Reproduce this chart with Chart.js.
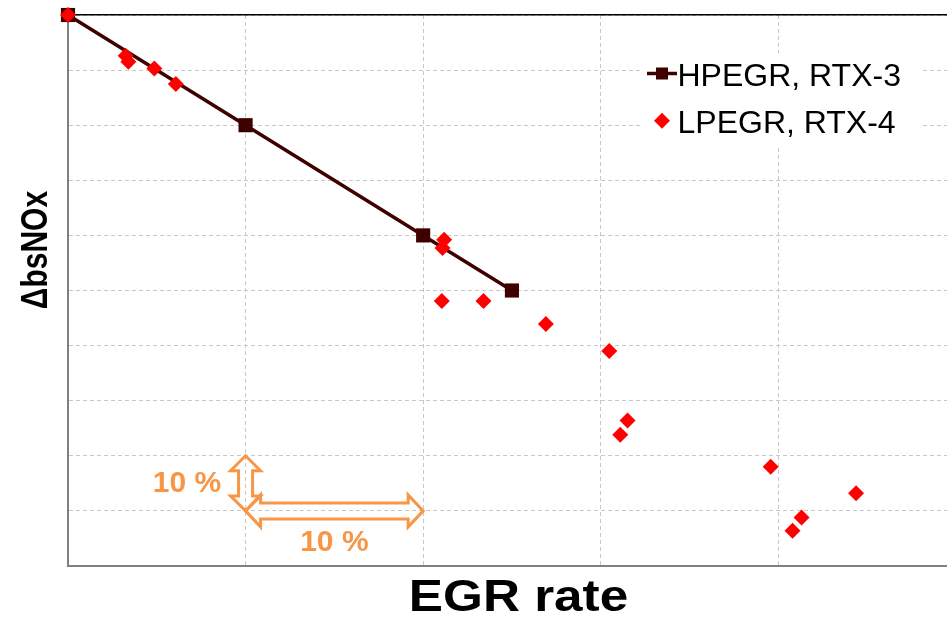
<!DOCTYPE html>
<html>
<head>
<meta charset="utf-8">
<script src="https://cdn.jsdelivr.net/npm/chart.js@4.4.1/dist/chart.umd.min.js"></script>
<style>
  html, body { margin: 0; padding: 0; background: #fff; }
  #wrap { width: 947px; height: 619px; }
</style>
</head>
<body>
<div id="wrap"><canvas id="chart" width="947" height="619"></canvas></div>
<script>
// data (EGR rate in %, delta bsNOx in %)
const hpLabel = 'HPEGR, RTX-3';
const hpEgr = [0, 10, 20, 25];
const hpNox = [0, -20, -40, -50];

const lpLabel = 'LPEGR, RTX-4';
const lpEgr = [0, 3.25, 3.4, 4.86, 6.07, 21.18, 21.09, 21.05, 23.4, 26.91, 30.48, 31.51, 31.1, 39.57, 44.38, 41.31, 40.8];
const lpNox = [0, -7.4, -8.5, -9.7, -12.5, -40.8, -42.3, -51.9, -51.9, -56.1, -61.0, -73.6, -76.2, -82.0, -86.8, -91.2, -93.6];

const xRange = [0, 49.5];
const yRange = [-100, 0];
const gridStep = 10;
const xTitle = 'EGR rate';
const yTitle = 'ΔbsNOx';
const scaleNote = '10 %';

const colorHp = '#3f0000';
const colorLp = '#ff0000';
const colorNote = '#f79646';
const fontFamily = "'Liberation Sans', Arial, sans-serif";

function toPoints(xs, ys) {
    return xs.map((x, i) => ({ x: x, y: ys[i] }));
}

// outlined double headed arrow between two pixel points
function doubleArrow(ctx, x1, y1, x2, y2, shaft, head, headLen) {
    const len = Math.hypot(x2 - x1, y2 - y1);
    const ux = (x2 - x1) / len, uy = (y2 - y1) / len;
    const nx = -uy, ny = ux;
    const pts = [
        [0, 0], [headLen, head], [headLen, shaft], [len - headLen, shaft], [len - headLen, head],
        [len, 0], [len - headLen, -head], [len - headLen, -shaft], [headLen, -shaft], [headLen, -head]
    ];
    ctx.beginPath();
    pts.forEach(([a, b], i) => {
        const px = x1 + ux * a + nx * b;
        const py = y1 + uy * a + ny * b;
        if (i === 0) ctx.moveTo(px, py); else ctx.lineTo(px, py);
    });
    ctx.closePath();
    ctx.stroke();
}

const legendBox = {
    id: 'legendBox',
    beforeDatasetsDraw(chart) {
        const { ctx, chartArea } = chart;
        const left = chartArea.right - 304;
        const top = chartArea.top + 38;
        ctx.save();
        ctx.fillStyle = '#fff';
        ctx.fillRect(left, top, 280, 92);
        ctx.font = '32px ' + fontFamily;
        ctx.textBaseline = 'alphabetic';
        const markX = chartArea.right - 285;
        chart.data.datasets.forEach((ds, i) => {
            const base = chartArea.top + 71 + i * 47.3;
            const my = base - 12.5;
            ctx.fillStyle = ds.backgroundColor;
            ctx.strokeStyle = ds.borderColor;
            if (ds.pointStyle === 'rect') {
                ctx.lineWidth = ds.borderWidth;
                ctx.beginPath();
                ctx.moveTo(markX - 15, my);
                ctx.lineTo(markX + 15, my);
                ctx.stroke();
                ctx.fillRect(markX - 6, my - 6, 12, 12);
            } else {
                const r = 8;
                ctx.beginPath();
                ctx.moveTo(markX - r, my);
                ctx.lineTo(markX, my - r);
                ctx.lineTo(markX + r, my);
                ctx.lineTo(markX, my + r);
                ctx.closePath();
                ctx.fill();
            }
            ctx.fillStyle = '#000';
            ctx.fillText(ds.label, markX + 15.5, base);
        });
        ctx.restore();
    }
};

const notes = {
    id: 'notes',
    afterDatasetsDraw(chart) {
        const { ctx, chartArea, scales } = chart;
        const x = scales.x, y = scales.y;
        ctx.save();
        ctx.strokeStyle = colorNote;
        ctx.lineWidth = 3;
        ctx.lineJoin = 'miter';
        doubleArrow(ctx, x.getPixelForValue(10), y.getPixelForValue(-80),
            x.getPixelForValue(10), y.getPixelForValue(-90), 7, 15, 15);
        doubleArrow(ctx, x.getPixelForValue(10), y.getPixelForValue(-90),
            x.getPixelForValue(20), y.getPixelForValue(-90), 8, 16, 15);

        ctx.fillStyle = colorNote;
        ctx.font = 'bold 30px ' + fontFamily;
        ctx.textAlign = 'center';
        ctx.textBaseline = 'middle';
        ctx.fillText(scaleNote, x.getPixelForValue(6.7), y.getPixelForValue(-85));
        ctx.fillText(scaleNote, x.getPixelForValue(15), y.getPixelForValue(-95.8));

        // axis titles, stretched a bit like the original
        ctx.fillStyle = '#000';
        ctx.textBaseline = 'alphabetic';
        ctx.font = 'bold 44px ' + fontFamily;
        ctx.save();
        ctx.translate((chartArea.left + chartArea.right) / 2 + 11, chartArea.bottom + 45);
        ctx.scale(1.165, 1);
        ctx.fillText(xTitle, 0, 0);
        ctx.restore();

        ctx.font = 'bold 30px ' + fontFamily;
        ctx.save();
        ctx.translate(chartArea.left - 21, chartArea.top + 235);
        ctx.rotate(-Math.PI / 2);
        ctx.scale(1, 1.22);
        ctx.fillText(yTitle, 0, 0);
        ctx.restore();
        ctx.restore();
    }
};

function zeroFit(scale) {
    if (scale.isHorizontal()) scale.height = 0; else scale.width = 0;
}

const gridColor = '#c8c8c8';

new Chart(document.getElementById('chart'), {
    type: 'scatter',
    data: {
        datasets: [
            {
                label: hpLabel,
                data: toPoints(hpEgr, hpNox),
                showLine: true,
                borderColor: colorHp,
                backgroundColor: colorHp,
                borderWidth: 3.5,
                pointStyle: 'rect',
                pointRadius: 10,
                pointHoverRadius: 10,
                pointBorderWidth: 0,
                order: 1,
                clip: false
            },
            {
                label: lpLabel,
                data: toPoints(lpEgr, lpNox),
                borderColor: colorLp,
                backgroundColor: colorLp,
                pointStyle: 'rectRot',
                pointRadius: 8,
                pointHoverRadius: 8,
                pointBorderWidth: 0,
                order: 0,
                clip: false
            }
        ]
    },
    options: {
        responsive: false,
        animation: false,
        events: [],
        layout: { autoPadding: false, padding: { left: 68, top: 15, right: 0, bottom: 53 } },
        plugins: {
            legend: { display: false },
            tooltip: { enabled: false }
        },
        scales: {
            x: {
                type: 'linear',
                position: 'bottom',
                min: xRange[0],
                max: xRange[1],
                ticks: { display: false, stepSize: gridStep },
                grid: {
                    drawTicks: false,
                    lineWidth: 1,
                    color: (c) => (c.tick && c.tick.value > 0 && c.tick.value % gridStep === 0) ? gridColor : 'rgba(0,0,0,0)'
                },
                border: { color: '#808080', width: 2, dash: [4, 3] },
                afterFit: zeroFit
            },
            xTop: {
                type: 'linear',
                position: 'top',
                min: xRange[0],
                max: xRange[1],
                ticks: { display: false },
                grid: { display: false, drawTicks: false },
                border: { color: '#000', width: 1.5 },
                afterFit: zeroFit
            },
            y: {
                type: 'linear',
                position: 'left',
                min: yRange[0],
                max: yRange[1],
                ticks: { display: false, stepSize: gridStep },
                grid: { drawTicks: false, lineWidth: 1, color: gridColor },
                border: { color: '#808080', width: 2, dash: [4, 3] },
                afterFit: zeroFit
            }
        }
    },
    plugins: [legendBox, notes]
});
</script>
</body>
</html>
